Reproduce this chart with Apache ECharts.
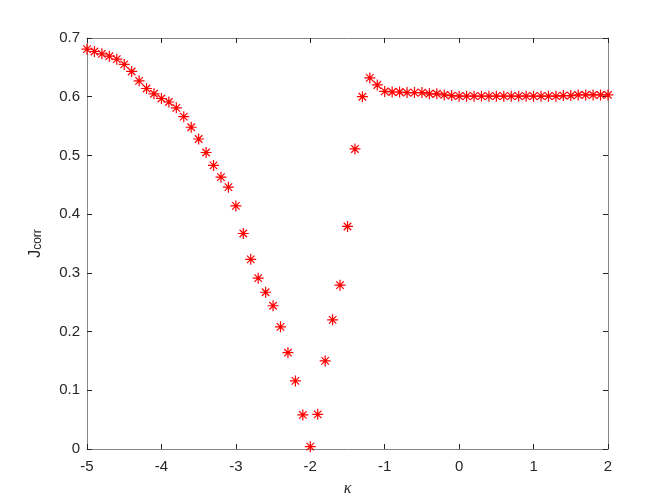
<!DOCTYPE html>
<html>
<head>
<meta charset="utf-8">
<script src="https://cdn.jsdelivr.net/npm/echarts@6/dist/echarts.min.js"></script>
<style>html,body{margin:0;padding:0;background:#fff}#c{width:672px;height:504px}</style>
</head>
<body>
<div id="c"></div>
<script>
var kappa = [-5.0,-4.9,-4.8,-4.7,-4.6,-4.5,-4.4,-4.3,-4.2,-4.1,
  -4.0,-3.9,-3.8,-3.7,-3.6,-3.5,-3.4,-3.3,-3.2,-3.1,
  -3.0,-2.9,-2.8,-2.7,-2.6,-2.5,-2.4,-2.3,-2.2,-2.1,
  -2.0,-1.9,-1.8,-1.7,-1.6,-1.5,-1.4,-1.3,-1.2,-1.1,
  -1.0,-0.9,-0.8,-0.7,-0.6,-0.5,-0.4,-0.3,-0.2,-0.1,
  0.0,0.1,0.2,0.3,0.4,0.5,0.6,0.7,0.8,0.9,
  1.0,1.1,1.2,1.3,1.4,1.5,1.6,1.7,1.8,1.9,2.0];
var jcorr = [0.681,0.677,0.673,0.669,0.664,0.655,0.643,0.627,0.614,0.605,
  0.597,0.591,0.581,0.566,0.548,0.528,0.505,0.483,0.463,0.446,
  0.414,0.367,0.323,0.291,0.267,0.244,0.208,0.164,0.116,0.058,
  0.004,0.059,0.150,0.220,0.279,0.379,0.511,0.600,0.632,0.620,
  0.609,0.608,0.608,0.607,0.607,0.607,0.605,0.605,0.603,0.602,
  0.601,0.601,0.601,0.601,0.601,0.601,0.601,0.601,0.601,0.601,
  0.601,0.601,0.601,0.601,0.602,0.602,0.603,0.603,0.603,0.603,0.603];
var xTicks = [-5,-4,-3,-2,-1,0,1,2];
var yTicks = [0,0.1,0.2,0.3,0.4,0.5,0.6,0.7];

var pts = kappa.map(function(k,i){return [k, jcorr[i]];});
var axisLine = {show:true, onZero:false, lineStyle:{color:'#868686', width:1}};
var tick = {show:true, inside:true, length:5, lineStyle:{color:'#262626', width:1}};
var lbl = {color:'#262626', fontFamily:'Liberation Sans, Arial, sans-serif', fontSize:15};

var chart = echarts.init(document.getElementById('c'), null, {renderer:'canvas'});
chart.setOption({
  animation:false,
  backgroundColor:'#fff',
  grid:{left:87, right:64, top:38, bottom:55, containLabel:false},
  xAxis:[{
    type:'value', min:xTicks[0], max:xTicks[xTicks.length-1], interval:1, position:'bottom',
    axisLine:axisLine, axisTick:tick, splitLine:{show:false},
    axisLabel:Object.assign({margin:10}, lbl),
    name:'κ', nameLocation:'middle', nameGap:32,
    nameTextStyle:{fontFamily:'Liberation Serif, Times New Roman, serif', fontStyle:'italic', fontSize:16, color:'#262626'}
  },{
    type:'value', min:xTicks[0], max:xTicks[xTicks.length-1], interval:1, position:'top',
    axisLine:axisLine, axisTick:tick, splitLine:{show:false}, axisLabel:{show:false}
  }],
  yAxis:[{
    type:'value', min:yTicks[0], max:yTicks[yTicks.length-1], interval:0.1, position:'left',
    axisLine:axisLine, axisTick:tick, splitLine:{show:false},
    axisLabel:Object.assign({margin:7, formatter:function(v){return v===0?'0':v.toFixed(1);}}, lbl),
    name:'{a|J}{b|corr}', nameLocation:'middle', nameGap:39, nameRotate:90,
    nameTextStyle:{rich:{
      a:{fontFamily:'Liberation Sans, Arial, sans-serif', fontSize:16, color:'#262626', padding:[0,0,4,0]},
      b:{fontFamily:'Liberation Sans, Arial, sans-serif', fontSize:12, color:'#262626'}
    }}
  },{
    type:'value', min:yTicks[0], max:yTicks[yTicks.length-1], interval:0.1, position:'right',
    axisLine:axisLine, axisTick:tick, splitLine:{show:false}, axisLabel:{show:false}
  }],
  series:[{
    type:'scatter',
    data:pts,
    symbol:'path://M5,0L5,10M0,5L10,5M1.6,1.6L8.4,8.4M8.4,1.6L1.6,8.4',
    symbolSize:11,
    itemStyle:{color:'transparent', borderColor:'#ff0000', borderWidth:1.2, opacity:1},
    emphasis:{disabled:true}
  }]
});
</script>
</body>
</html>
